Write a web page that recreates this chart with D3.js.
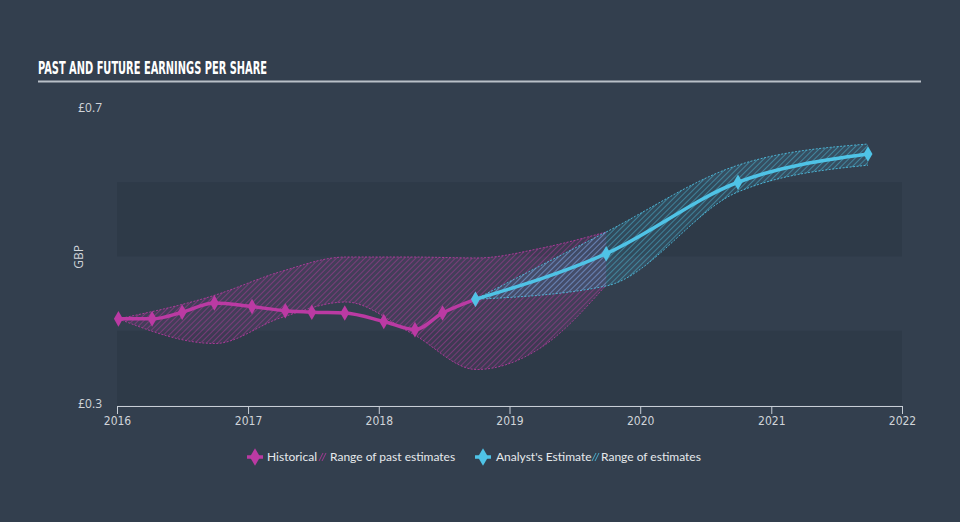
<!DOCTYPE html>
<html><head><meta charset="utf-8">
<script src="https://cdn.jsdelivr.net/npm/d3@7"></script>
<style>
html,body{margin:0;padding:0;background:#333f4e;}
svg{display:block;}
</style></head>
<body>
<svg id="chart" width="960" height="522"></svg>
<script>
// ---- data ----
const histDates = ["2016-01-05","2016-04-08","2016-07-01","2016-09-29","2017-01-12","2017-04-15","2017-06-28","2017-09-28","2018-01-15","2018-04-12","2018-06-28","2018-09-28"];
const histValues = [0.416,0.416,0.425,0.4375,0.4325,0.427,0.425,0.424,0.4125,0.4015,0.424,0.4424];

const estDates = ["2018-09-28","2019-09-28","2020-09-30","2021-09-28"];
const estValues = [0.4424,0.5038,0.600,0.638];
const estLow = [0.4424,0.4603,0.587,0.623];
const estHigh = [0.4424,0.533,0.623,0.6515];

const pastRangeDates = ["2016-01-05","2016-10-01","2017-04-01","2017-10-01","2018-04-01","2018-10-01","2019-04-01","2019-09-28"];
const pastLow = [0.416,0.3828,0.4172,0.4387,0.397,0.3478,0.378,0.4616];
const pastHigh = [0.416,0.448,0.4795,0.4993,0.4993,0.498,0.5114,0.533];

const yTicks = [0.3,0.7];
const bands = [[0.3,0.4],[0.5,0.6]];
const xDomain = ["2016-01-01","2022-01-01"];

const title = "PAST AND FUTURE EARNINGS PER SHARE";
const yLabel = "GBP";
const legendItems = ["Historical","Range of past estimates","Analyst's Estimate","Range of estimates"];

// ---- setup ----
const parse = d3.timeParse("%Y-%m-%d");
const svg = d3.select("#chart");
const W = 960, H = 522;
const pink = "#bb3aa3", blue = "#4fc3e6";

const x = d3.scaleTime().domain(xDomain.map(parse)).range([117, 902]);
const y = d3.scaleLinear().domain([0.3, 0.7]).range([405, 108]);

const defs = svg.append("defs");
function hatch(id, color) {
  const p = defs.append("pattern").attr("id", id).attr("patternUnits", "userSpaceOnUse")
    .attr("width", 4).attr("height", 4).attr("patternTransform", "rotate(45)");
  p.append("rect").attr("width", 4).attr("height", 4).attr("fill", color).attr("fill-opacity", 0.12);
  p.append("line").attr("x1", 0).attr("y1", 0).attr("x2", 0).attr("y2", 4)
    .attr("stroke", color).attr("stroke-width", 1.3).attr("stroke-opacity", 0.7);
}
hatch("hatchPink", pink);
hatch("hatchBlue", blue);

// background
svg.append("rect").attr("width", W).attr("height", H).attr("fill", "#333f4e");

// bands
svg.selectAll("rect.band").data(bands).enter().append("rect").attr("class", "band")
  .attr("x", x.range()[0]).attr("width", x.range()[1] - x.range()[0])
  .attr("y", d => y(d[1])).attr("height", d => y(d[0]) - y(d[1]))
  .attr("fill", "#2e3a48");

// title
svg.append("text").attr("x", 38).attr("y", 74).text(title)
  .attr("font-family", "'Liberation Sans Narrow','DejaVu Sans Condensed',sans-serif")
  .attr("font-weight", "bold").attr("font-size", 17).attr("fill", "#ffffff")
  .attr("textLength", 229).attr("lengthAdjust", "spacingAndGlyphs");
svg.append("line").attr("x1", 38).attr("x2", 921).attr("y1", 81.5).attr("y2", 81.5)
  .attr("stroke", "#b9c0c8").attr("stroke-width", 2);

// y labels
svg.selectAll("text.ytick").data(yTicks).enter().append("text").attr("class", "ytick")
  .attr("x", 102).attr("y", d => y(d) + (d === 0.3 ? -1 : 0)).attr("dy", "0.35em")
  .attr("text-anchor", "end").attr("font-family", "'Open Sans',sans-serif").attr("font-size", 12)
  .attr("fill", "#d0d4d9").text(d => "£" + d);
svg.append("text").attr("transform", "translate(83,257) rotate(-90)").attr("text-anchor", "middle")
  .attr("font-family", "'Open Sans',sans-serif").attr("font-size", 12).attr("fill", "#d0d4d9").text(yLabel);

// x axis
const xAxis = svg.append("g").attr("transform", "translate(0,406)")
  .call(d3.axisBottom(x).ticks(d3.timeYear.every(1)).tickFormat(d3.timeFormat("%Y")).tickSize(8).tickSizeOuter(0).tickPadding(2));
xAxis.select(".domain").attr("stroke", "#c8ced6").attr("stroke-width", 1.2);
xAxis.selectAll(".tick line").attr("stroke", "#c8ced6");
xAxis.selectAll(".tick text").attr("fill", "#d0d4d9").attr("font-size", 12)
  .attr("font-family", "'Liberation Sans Narrow','DejaVu Sans Condensed',sans-serif");

// ranges
const pastRange = pastRangeDates.map((d, i) => ({ date: parse(d), lo: pastLow[i], hi: pastHigh[i] }));
const estRange = estDates.map((d, i) => ({ date: parse(d), lo: estLow[i], hi: estHigh[i] }));
const area = d3.area().x(d => x(d.date)).y0(d => y(d.lo)).y1(d => y(d.hi)).curve(d3.curveMonotoneX);
const edgeLo = d3.line().x(d => x(d.date)).y(d => y(d.lo)).curve(d3.curveMonotoneX);
const edgeHi = d3.line().x(d => x(d.date)).y(d => y(d.hi)).curve(d3.curveMonotoneX);

function drawRange(data, fillId, color) {
  svg.append("path").datum(data).attr("d", area).attr("fill", `url(#${fillId})`);
  [edgeLo, edgeHi].forEach(g => svg.append("path").datum(data).attr("d", g).attr("fill", "none")
    .attr("stroke", color).attr("stroke-width", 1).attr("stroke-dasharray", "2,1.5").attr("stroke-opacity", 0.85));
}
drawRange(pastRange, "hatchPink", pink);
drawRange(estRange, "hatchBlue", blue);

// lines
const hist = histDates.map((d, i) => ({ date: parse(d), v: histValues[i] }));
const est = estDates.map((d, i) => ({ date: parse(d), v: estValues[i] }));
const line = d3.line().x(d => x(d.date)).y(d => y(d.v)).curve(d3.curveMonotoneX);
const diamond = d3.symbol().type(d3.symbolDiamond).size(70);

function drawSeries(data, color) {
  svg.append("path").datum(data).attr("d", line).attr("fill", "none")
    .attr("stroke", color).attr("stroke-width", 3.5).attr("stroke-linejoin", "round");
  svg.selectAll(null).data(data).enter().append("path")
    .attr("transform", d => `translate(${x(d.date)},${y(d.v)})`).attr("d", diamond).attr("fill", color);
}
drawSeries(hist, pink);
drawSeries(est, blue);

// legend
const lg = svg.append("g").attr("font-family", "Lato,sans-serif").attr("font-size", 12).attr("fill", "#e6e9ec");
function legendDiamond(cx, color) {
  lg.append("line").attr("x1", cx - 8).attr("x2", cx + 8).attr("y1", 457).attr("y2", 457).attr("stroke", color).attr("stroke-width", 3.5);
  lg.append("path").attr("transform", `translate(${cx},457)`).attr("d", d3.symbol().type(d3.symbolDiamond).size(90)).attr("fill", color);
}
function legendHatch(x0, color) {
  lg.append("line").attr("x1", x0).attr("y1", 461).attr("x2", x0 + 4).attr("y2", 453).attr("stroke", color).attr("stroke-width", 1).attr("stroke-opacity", 0.8);
  lg.append("line").attr("x1", x0 + 3).attr("y1", 461).attr("x2", x0 + 7).attr("y2", 453).attr("stroke", color).attr("stroke-width", 1).attr("stroke-opacity", 0.8);
}
legendDiamond(255, pink);
lg.append("text").attr("x", 267).attr("y", 461).text(legendItems[0]);
legendHatch(319, pink);
lg.append("text").attr("x", 330).attr("y", 461).text(legendItems[1]);
legendDiamond(483, blue);
lg.append("text").attr("x", 496).attr("y", 461).text(legendItems[2]);
legendHatch(592, blue);
lg.append("text").attr("x", 601).attr("y", 461).text(legendItems[3]);
</script>
</body></html>
